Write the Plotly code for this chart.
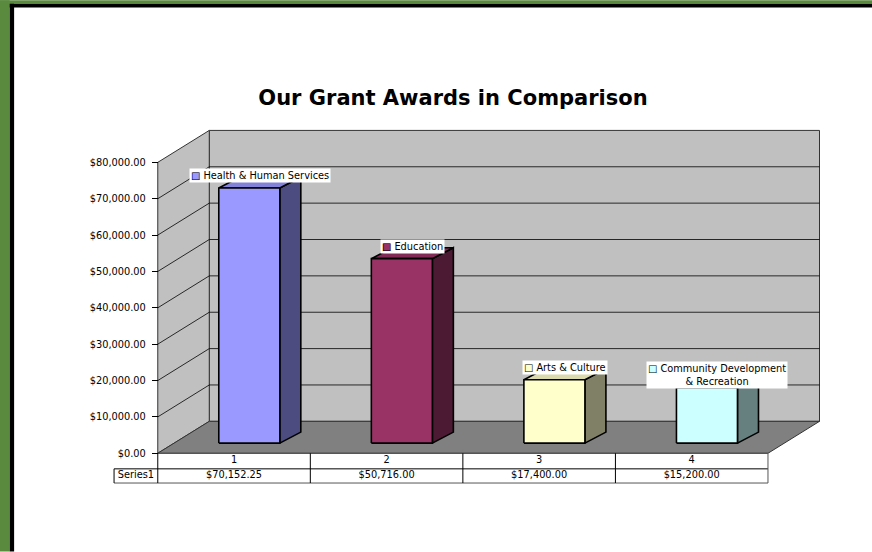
import plotly.graph_objects as go

# ---------------- data ----------------
categories = ["1", "2", "3", "4"]
series_name = "Series1"
bar_labels = ["Health & Human Services", "Education", "Arts & Culture",
              "Community Development<br>& Recreation"]
values = [70152.25, 50716.00, 17400.00, 15200.00]
front_colors = ["#9999FF", "#993366", "#FFFFCC", "#CCFFFF"]
tick_values = [0, 10000, 20000, 30000, 40000, 50000, 60000, 70000, 80000]
title_text = "Our Grant Awards in Comparison"

# ---------------- geometry (pixel scale helpers) ----------------
PX_PER_X = 152.5            # pixels per category column
PX_PER_Y = 291.4 / 80000.0  # pixels per dollar
X_RANGE = [-0.3, 4.4]
Y_RANGE = [-9000, 90000]
W, H = 872, 552
X0_PX, Y0_PX = 158.0, 453.7


def ux(px):
    return px / PX_PER_X


def uy(px):
    return px / PX_PER_Y


WALL_DX, WALL_DY = ux(51.5), uy(32)
BAR_OFF, BAR_W = 0.4, 0.4
BAR_DX, BAR_DY = ux(21), uy(11)
BAR_BASE = uy(10.2)
ROW1, ROW2 = -uy(15.6), -uy(29.8)
LEFT_CELL = ux(114.3 - X0_PX)
N = len(categories)
YMAX = tick_values[-1]

L = X0_PX + X_RANGE[0] * PX_PER_X
R = X0_PX + X_RANGE[1] * PX_PER_X
B = Y0_PX - Y_RANGE[0] * PX_PER_Y
T = Y0_PX - Y_RANGE[1] * PX_PER_Y


def shade(hexc, f):
    h = hexc.lstrip("#")
    r, g, b = int(h[0:2], 16), int(h[2:4], 16), int(h[4:6], 16)
    return "rgb(%d,%d,%d)" % (round(r * f), round(g * f), round(b * f))


FONT = "DejaVu Sans, Arial, sans-serif"
fig = go.Figure()


def poly(xs, ys, fill, line="#333333", width=1.0):
    fig.add_trace(go.Scatter(
        x=xs + [xs[0]], y=ys + [ys[0]], mode="lines", fill="toself",
        fillcolor=fill, line=dict(color=line, width=width),
        hoverinfo="skip", showlegend=False))


def seg(x, y, color="#000000", width=0.8):
    fig.add_trace(go.Scatter(x=x, y=y, mode="lines",
                             line=dict(color=color, width=width),
                             hoverinfo="skip", showlegend=False))


# walls
poly([WALL_DX, N + WALL_DX, N + WALL_DX, WALL_DX],
     [WALL_DY, WALL_DY, YMAX + WALL_DY, YMAX + WALL_DY], "#C0C0C0")
poly([0, WALL_DX, WALL_DX, 0],
     [0, WALL_DY, YMAX + WALL_DY, YMAX], "#C0C0C0")
poly([0, N, N + WALL_DX, WALL_DX],
     [0, 0, WALL_DY, WALL_DY], "#808080")

# gridlines
for v in tick_values[1:-1]:
    seg([0, WALL_DX, N + WALL_DX], [v, v + WALL_DY, v + WALL_DY])

# bars
for i, (v, c) in enumerate(zip(values, front_colors)):
    x0 = i + BAR_OFF
    x1 = x0 + BAR_W
    y0 = BAR_BASE
    y1 = v + BAR_BASE
    poly([x1, x1 + BAR_DX, x1 + BAR_DX, x1],
         [y0, y0 + BAR_DY, y1 + BAR_DY, y1], shade(c, 0.5), "#000000", 1.6)
    poly([x0, x1, x1 + BAR_DX, x0 + BAR_DX],
         [y1, y1, y1 + BAR_DY, y1 + BAR_DY], shade(c, 0.85), "#000000", 1.6)
    poly([x0, x1, x1, x0], [y0, y0, y1, y1], c, "#000000", 1.6)

# data table
seg([0, N], [0, 0], "#555555", 1)
seg([LEFT_CELL, N], [ROW1, ROW1], "#000000", 1)
seg([LEFT_CELL, N], [ROW2, ROW2], "#555555", 1)
seg([LEFT_CELL, LEFT_CELL], [ROW1, ROW2], "#000000", 1)
for k in range(N + 1):
    seg([k, k], [0, ROW2], "#000000" if k < N else "#555555", 1)

fig.add_trace(go.Scatter(
    x=[i + 0.5 for i in range(N)], y=[ROW1 / 2] * N, mode="text",
    text=categories, textfont=dict(family=FONT, size=9.8, color="#000000"),
    hoverinfo="skip", showlegend=False))
fig.add_trace(go.Scatter(
    x=[i + 0.5 for i in range(N)] + [LEFT_CELL / 2],
    y=[(ROW1 + ROW2) / 2] * (N + 1), mode="text",
    text=["${:,.2f}".format(v) for v in values] + [series_name],
    textfont=dict(family=FONT, size=9.8, color="#000000"),
    hoverinfo="skip", showlegend=False))

# data labels with legend keys
annotations = []
for i, (v, c, lab) in enumerate(zip(values, front_colors, bar_labels)):
    ax = i + BAR_OFF + BAR_W / 2 + BAR_DX / 2
    ay = v + BAR_BASE + BAR_DY / 2 + uy(7)
    annotations.append(dict(
        x=ax, y=ay, xref="x", yref="y", showarrow=False,
        text='<span style="color:%s">\u25A0</span> %s' % (c, lab),
        font=dict(family=FONT, size=9.8, color="#000000"),
        bgcolor="#FFFFFF", borderpad=1, xanchor="center", yanchor="middle"))
    annotations.append(dict(
        x=ax, y=ay, xref="x", yref="y", showarrow=False,
        text='\u25A1<span style="color:rgba(0,0,0,0)"> %s</span>' % lab,
        font=dict(family=FONT, size=9.8, color="#000000"),
        borderpad=1, xanchor="center", yanchor="middle"))


# frame (decoration, in paper coordinates from pixel positions)
def px_x(p):
    return (p - L) / (R - L)


def px_y(p):
    return (B - p) / (B - T)


frame = [
    (0, 0, W, 3.3, "#5A8A3E"),
    (0, 0, 10, H, "#5A8A3E"),
    (10, 3.3, W, 7.3, "#000000"),
    (10, 3.3, 14.4, H, "#000000"),
]
shapes = [dict(type="rect", xref="paper", yref="paper",
               x0=px_x(a), x1=px_x(c), y0=px_y(d), y1=px_y(b),
               fillcolor=col, line=dict(width=0), layer="above")
          for a, b, c, d, col in frame]

fig.update_layout(
    width=W, height=H,
    margin=dict(l=L, r=W - R, t=T, b=H - B, pad=0),
    paper_bgcolor="#FFFFFF", plot_bgcolor="rgba(0,0,0,0)",
    showlegend=False, hovermode=False,
    title=dict(text="<b>%s</b>" % title_text, x=453 / W, y=1 - 98 / H,
               xref="container", yref="container",
               xanchor="center", yanchor="middle",
               font=dict(family=FONT, size=21, color="#000000")),
    xaxis=dict(range=X_RANGE, visible=False, fixedrange=True),
    yaxis=dict(range=Y_RANGE, anchor="free",
               position=(0 - X_RANGE[0]) / (X_RANGE[1] - X_RANGE[0]),
               tickvals=tick_values, tickformat="$,.2f",
               ticks="outside", ticklen=6, tickcolor="#000000", tickwidth=1,
               ticklabelstandoff=4,
               showline=False, showgrid=False, zeroline=False,
               tickfont=dict(family=FONT, size=9.8, color="#000000"),
               fixedrange=True),
    annotations=annotations, shapes=shapes,
)

fig.write_html("out.html", config={"displayModeBar": False},
               post_script="document.body.style.margin='0';"
                           "document.body.style.padding='0';")
